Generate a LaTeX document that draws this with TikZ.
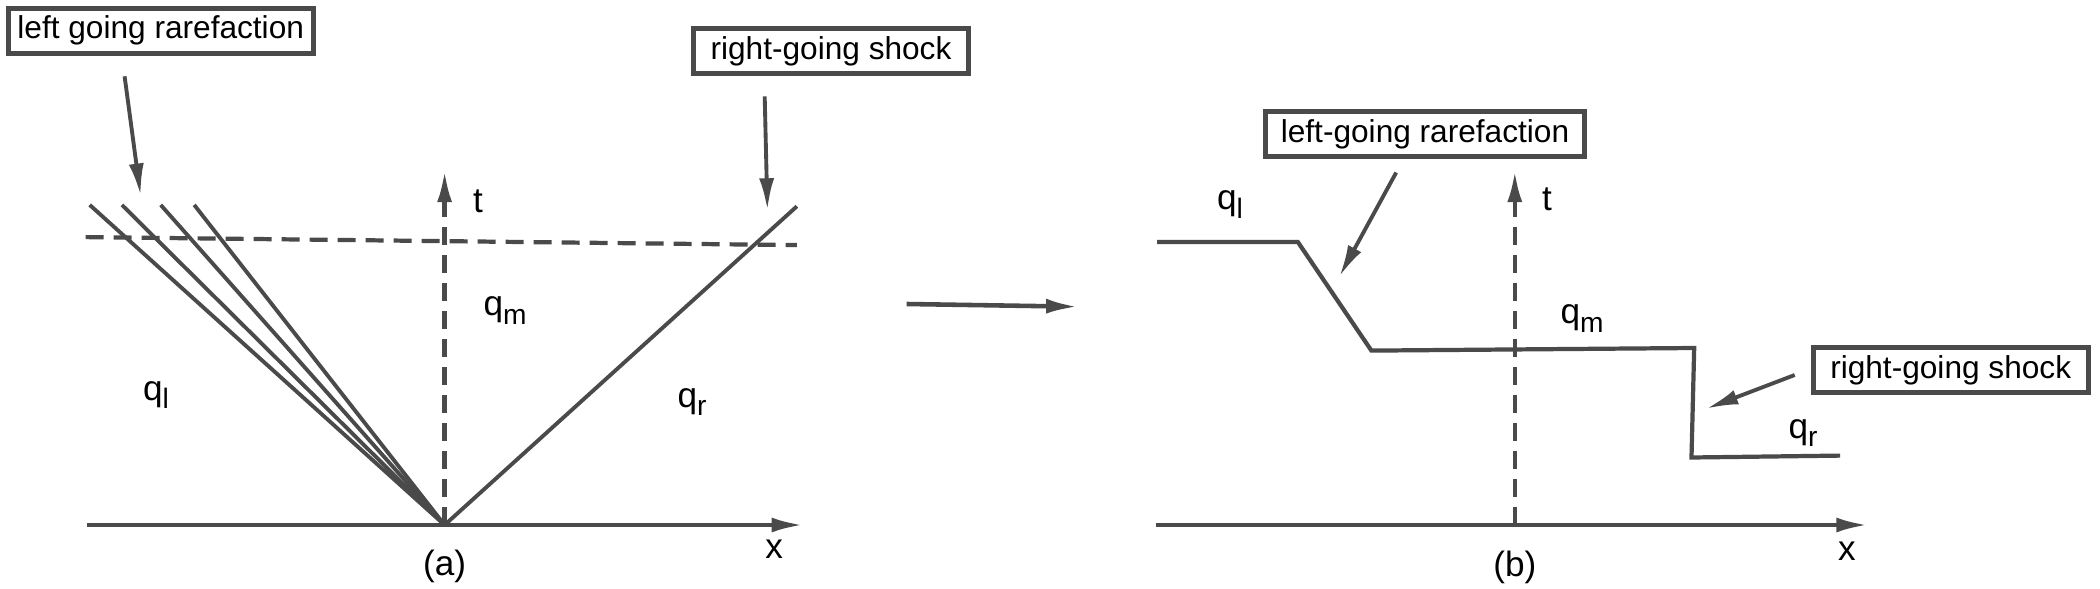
\documentclass[tikz,border=0pt]{standalone}
\usepackage{fontspec}
\setmainfont{Liberation Sans}
\usetikzlibrary{arrows.meta,calc,positioning}
\definecolor{darkline}{RGB}{74,74,74}
\newcommand{\lowsub}[1]{\raisebox{-0.45ex}{\fontsize{8}{9}\selectfont #1}}
\tikzset{>={Latex[length=3.2mm,width=1.5mm]}}
\tikzset{
  axis/.style={->, darkline, line width=1.3pt},
  wave/.style={darkline, line width=1.1pt},
  tickdash/.style={darkline, line width=1.2pt, dash pattern=on 1.8mm off 1mm},
  notebox/.style={draw=darkline, line width=1.5pt, minimum height=0.45cm, inner sep=1pt, font=\fontsize{9}{10}\selectfont},
  pointer/.style={->, darkline, line width=1.1pt},
  statelabel/.style={font=\fontsize{10}{12}\selectfont},
}

\begin{document}
\begin{tikzpicture}
  \useasboundingbox (0,0) rectangle (21,5.88);

  % (a) x-t plane
  \coordinate (Oa) at (4.446,0.630);
  \coordinate (xa0) at (0.871,0.630);
  \coordinate (xa1) at (8.036,0.630);
  \coordinate (ta1) at (4.446,4.179);
  \draw [axis] (xa0) -- (xa1);
  \draw [axis, dash pattern=on 1.8mm off 1mm] (Oa) -- (ta1);
  \node [statelabel] (ta) at (4.781,3.871) {t};
  \node [statelabel] (xa) at (7.741,0.389) {x};
  \node [statelabel] (capa) at (4.446,0.215) {(a)};
  % rarefaction fan
  \foreach \x [count=\i] in {0.897,1.219,1.607,1.942}
    \draw [wave] (Oa) -- (\x,3.831) coordinate (fan\i);
  % shock
  \draw [wave] (Oa) -- (7.969,3.817) coordinate (shk);
  % time level
  \coordinate (lev0) at (0.857,3.509);
  \coordinate (lev1) at (7.969,3.429);
  \draw [tickdash] (lev0) -- (lev1);
  % states
  \node [statelabel] (qla) at (1.560,1.929) {q\lowsub{l}};
  \node [statelabel] (qma) at (5.050,2.773) {q\lowsub{m}};
  \node [statelabel] (qra) at (6.920,1.862) {q\lowsub{r}};
  % notes
  \node [notebox, minimum width=3.05cm] (rarea) at (1.607,5.572) {left going rarefaction};
  \node [notebox, minimum width=2.75cm] (shocka) at (8.310,5.371) {right-going shock};
  \coordinate (ra0) at (1.246,5.117);
  \coordinate (ra1) at (1.406,3.925);
  \coordinate (sa0) at (7.647,4.916);
  \coordinate (sa1) at (7.674,3.777);
  \draw [pointer] (ra0) -- (ra1);
  \draw [pointer] (sa0) -- (sa1);

  % arrow between panels
  \coordinate (mid0) at (9.067,2.840);
  \coordinate (mid1) at (10.781,2.813);
  \draw [axis] (mid0) -- (mid1);

  % (b) profile at fixed time
  \coordinate (Ob) at (15.148,0.630);
  \coordinate (xb0) at (11.558,0.630);
  \coordinate (xb1) at (18.683,0.630);
  \coordinate (tb1) at (15.148,4.179);
  \draw [axis] (xb0) -- (xb1);
  \draw [axis, dash pattern=on 1.8mm off 1mm] (Ob) -- (tb1);
  \node [statelabel] (tb) at (15.469,3.892) {t};
  \node [statelabel] (xb) at (18.470,0.369) {x};
  \node [statelabel] (capb) at (15.148,0.201) {(b)};
  % solution profile
  \coordinate (p1) at (11.571,3.461);
  \coordinate (p2) at (12.978,3.461);
  \coordinate (p3) at (13.714,2.374);
  \coordinate (p4) at (16.942,2.400);
  \coordinate (p5) at (16.915,1.305);
  \coordinate (p6) at (18.402,1.324);
  \draw [wave, line width=1.2pt] (p1) -- (p2) -- (p3) -- (p4) -- (p5) -- (p6);
  % states
  \node [statelabel] (qlb) at (12.300,3.836) {q\lowsub{l}};
  \node [statelabel] (qmb) at (15.820,2.693) {q\lowsub{m}};
  \node [statelabel] (qrb) at (18.030,1.549) {q\lowsub{r}};
  % notes
  \node [notebox, minimum width=3.19cm] (rareb) at (14.250,4.540) {left-going rarefaction};
  \node [notebox, minimum width=2.75cm] (shockb) at (19.507,2.177) {right-going shock};
  \coordinate (rb0) at (13.962,4.155);
  \coordinate (rb1) at (13.393,3.113);
  \coordinate (sb0) at (17.947,2.130);
  \coordinate (sb1) at (17.063,1.793);
  \draw [pointer] (rb0) -- (rb1);
  \draw [pointer] (sb0) -- (sb1);
\end{tikzpicture}
\end{document}
